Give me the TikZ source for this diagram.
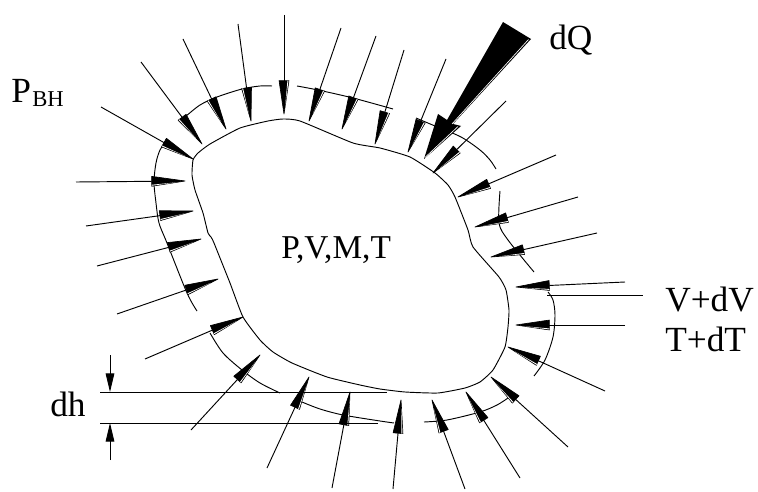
\documentclass[tikz,border=0pt]{standalone}
\usepackage{fontspec}
\setmainfont{Liberation Serif}
\usetikzlibrary{arrows.meta,calc}
\tikzset{
  wall/.style={line width=0.7pt,draw=black},
  shaft/.style={line width=0.7pt,draw=black},
  headb/.style={fill=black,draw=black,line width=0.5pt,line join=round},
  dimarr/.style={-{Triangle[length=14pt,width=6.5pt]},line width=0.7pt},
  lbl/.style={font=\fontsize{26.5}{27}\selectfont,anchor=base west,inner sep=0pt},
  sublbl/.style={font=\fontsize{17}{17}\selectfont,anchor=base west,inner sep=0pt},
}
\begin{document}
\begin{tikzpicture}[x=0.75pt,y=-0.75pt]
  \useasboundingbox (0,0) rectangle (758,492);
  % contour of the body
  \draw[wall] plot[smooth cycle,tension=0.3] coordinates {(193,160) (192,175) (195,190) (203,213) (208,233) (211,237) (214,243) (230,283) (243,317) (260,340) (273,352) (292,363) (327,377) (360,385) (380,389) (405,392) (438,393) (465,388) (480,382) (493,370) (505,347) (508,327) (509,310) (506,290) (499,277) (473,247) (468,230) (455,197) (448,185) (435,173) (410,157) (380,148) (353,143) (300,121) (283,119) (268,121) (240,128) (210,144) (198,153)};
  % outer contour, in pieces
  \draw[wall] plot[smooth,tension=0.5] coordinates {(272,86) (260,86) (242,89) (217,97) (200,105) (185,117)};
  \draw[wall] plot[smooth,tension=0.5] coordinates {(167,140) (160,150) (156,163) (154,182) (156,203) (159,223) (167,243) (187,293) (197,311)};
  \draw[wall] plot[smooth,tension=0.5] coordinates {(210,333) (223,353) (242,370) (260,383) (280,393)};
  \draw[wall] plot[smooth,tension=0.5] coordinates {(302,402) (320,409) (343,415) (380,421) (394,423)};
  \draw[wall] plot[smooth,tension=0.5] coordinates {(424,422) (447,420) (480,412) (497,405) (508,398)};
  \draw[wall] plot[smooth,tension=0.5] coordinates {(534,376) (545,360) (553,337) (555,315) (553,300) (548,292)};
  \draw[wall] plot[smooth,tension=0.5] coordinates {(500,191) (499,223) (508,240) (534,272)};
  \draw[wall] plot[smooth,tension=0.5] coordinates {(297,86) (318,90) (353,98) (393,109)};
  \draw[wall] plot[smooth,tension=0.5] coordinates {(416,118) (435,126) (461,137) (480,150) (490,160) (496,169)};
  % pressure arrows
  \foreach \ix/\tx/\ty/\hx/\hy in {1/101/107/193/159,2/141/62/202/144,3/183/39/226/129,4/238/24/251/121,5/284/15/284/114,6/341/28/309/121,7/376/36/342/129,8/404/50/375/144,9/446/59/408/152,10/506/101/433/173,11/556/155/458/197,12/578/197/475/227,13/597/233/491/257,14/625/282/516/287,15/625/325/516/325,16/605/391/508/347,17/568/447/491/377,18/520/478/466/392,19/465/489/432/400,20/393/489/401/400,21/332/488/350/392,22/267/468/309/377,23/191/430/260/355,24/145/359/243/317,25/117/314/218/279,26/97/266/201/239,27/86/226/193/211,28/76/182/185/181} {
    \pgfmathsetmacro{\ang}{\hx>\tx ? -90 : 90}
    \coordinate (t\ix) at (\tx,\ty);
    \coordinate (h\ix) at (\hx,\hy);
    \coordinate (b\ix) at ($(h\ix)!25pt!(t\ix)$);
    \coordinate (c\ix) at ($(b\ix)!3.7pt!\ang:(h\ix)$);
    \coordinate (e\ix) at ($(b\ix)!3.7pt!-\ang:(h\ix)$);
    \draw[shaft] (t\ix) -- (b\ix);
    \draw[headb] (c\ix) -- (h\ix) -- (e\ix) -- cycle;
    \fill[white] ($(c\ix)!0.1!(b\ix)$) -- ($(c\ix)!0.3!(b\ix)$) -- ($(c\ix)!0.75!(h\ix)$) -- cycle;
  }
  % heat arrow
  \coordinate (qa) at (503,22); \coordinate (qb) at (531,39); \coordinate (qc) at (453,124);
  \coordinate (qd) at (461,126); \coordinate (qe) at (424,159); \coordinate (qf) at (438,114);
  \coordinate (qg) at (447,120);
  \fill (qa) -- (qb) -- (qc) -- (qd) -- (qe) -- (qf) -- (qg) -- cycle;
  \draw[white,line width=0.5pt] ($(qb)+(-2.5,0.5)$) -- ($(qc)+(-1,0)$) ($(qd)+(-3,0.5)$) -- ($(qe)+(1,-1.5)$);
  % dh
  \coordinate (da) at (100,392); \coordinate (db) at (387,392);
  \coordinate (dc) at (100,423); \coordinate (dd) at (378,423);
  \coordinate (ua) at (110,355); \coordinate (ub) at (110,392);
  \coordinate (la) at (110,460); \coordinate (lb) at (110,423);
  \draw[wall] (da) -- (db) (dc) -- (dd);
  \draw[dimarr] (ua) -- (ub);
  \draw[dimarr] (la) -- (lb);
  % leader
  \coordinate (va) at (547,295); \coordinate (vb) at (643,295);
  \draw[wall] (va) -- (vb);
  % labels
  \node[lbl] (lblp) at (11,103) {P};
  \node[sublbl] (lblbh) at (32,107) {BH};
  \node[lbl] (lblq) at (549,50) {dQ};
  \node[lbl,font=\fontsize{25}{25}\selectfont] (lblstate) at (281,258) {P,V,M,T};
  \node[lbl] (lblv) at (665,311) {V+dV};
  \node[lbl] (lblt) at (665,351) {T+dT};
  \node[lbl] (lblh) at (50,416) {dh};
\end{tikzpicture}
\end{document}
